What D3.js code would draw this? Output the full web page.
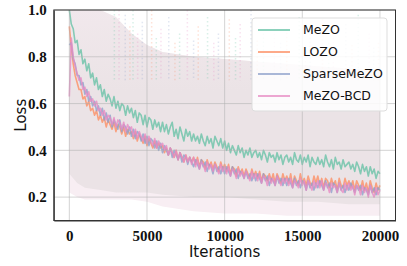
<!DOCTYPE html>
<html>
<head>
<meta charset="utf-8">
<script src="https://cdn.jsdelivr.net/npm/d3@7"></script>
<style>
  body { margin: 0; background: #fff; }
  .tick text { font-family: 'Liberation Serif', serif; font-weight: bold; font-size: 15px; fill: #111; }
  .label { font-family: 'DejaVu Sans', sans-serif; font-size: 15px; fill: #111; }
  .legend text { font-family: 'DejaVu Sans', sans-serif; font-size: 12.5px; fill: #111; }
</style>
</head>
<body>
<div id="chart"></div>
<script>
const seriesNames = ['MeZO', 'LOZO', 'SparseMeZO', 'MeZO-BCD'];
const colors = ['#66c2a5', '#fc8d62', '#8da0cb', '#e78ac3'];
const xTicks = [0, 5000, 10000, 15000, 20000];
const yTicks = [0.2, 0.4, 0.6, 0.8, 1.0];

// smoothed loss, one value every 125 iterations (16 per row = 2000 iterations)
const mezo = [
  1.00, 0.94, 0.92, 0.86, 0.87, 0.81, 0.83, 0.77, 0.79, 0.74, 0.77, 0.71, 0.73, 0.68, 0.71, 0.66,
  0.68, 0.63, 0.66, 0.61, 0.64, 0.62, 0.59, 0.63, 0.58, 0.61, 0.57, 0.60, 0.59, 0.55, 0.59, 0.56,
  0.58, 0.54, 0.57, 0.52, 0.56, 0.55, 0.51, 0.55, 0.50, 0.54, 0.53, 0.49, 0.53, 0.50, 0.52, 0.48,
  0.52, 0.48, 0.51, 0.47, 0.50, 0.52, 0.46, 0.49, 0.45, 0.50, 0.47, 0.44, 0.49, 0.46, 0.48, 0.44,
  0.47, 0.44, 0.46, 0.43, 0.47, 0.44, 0.42, 0.46, 0.43, 0.45, 0.41, 0.46, 0.44, 0.42, 0.45, 0.41,
  0.44, 0.40, 0.43, 0.39, 0.42, 0.40, 0.38, 0.42, 0.39, 0.41, 0.37, 0.40, 0.38, 0.41, 0.37, 0.39,
  0.40, 0.37, 0.39, 0.36, 0.40, 0.38, 0.35, 0.39, 0.37, 0.38, 0.35, 0.39, 0.36, 0.38, 0.34, 0.37,
  0.38, 0.35, 0.37, 0.34, 0.39, 0.36, 0.35, 0.38, 0.34, 0.37, 0.35, 0.38, 0.33, 0.37, 0.35, 0.34,
  0.37, 0.34, 0.36, 0.33, 0.38, 0.35, 0.33, 0.36, 0.32, 0.37, 0.34, 0.35, 0.32, 0.36, 0.33, 0.34,
  0.35, 0.32, 0.34, 0.31, 0.35, 0.33, 0.30, 0.34, 0.31, 0.33, 0.29, 0.33, 0.30, 0.32, 0.28, 0.31,
  0.30,
];
const lozo = [
  0.93, 0.84, 0.77, 0.72, 0.69, 0.66, 0.66, 0.62, 0.63, 0.59, 0.61, 0.57, 0.58, 0.55, 0.57, 0.53,
  0.55, 0.52, 0.54, 0.50, 0.53, 0.51, 0.49, 0.52, 0.48, 0.51, 0.50, 0.47, 0.50, 0.46, 0.49, 0.47,
  0.48, 0.45, 0.48, 0.44, 0.47, 0.45, 0.43, 0.46, 0.42, 0.45, 0.43, 0.41, 0.44, 0.41, 0.43, 0.41,
  0.42, 0.39, 0.41, 0.38, 0.41, 0.39, 0.37, 0.40, 0.36, 0.39, 0.37, 0.35, 0.38, 0.35, 0.37, 0.35,
  0.37, 0.34, 0.37, 0.33, 0.36, 0.35, 0.32, 0.36, 0.33, 0.35, 0.32, 0.35, 0.33, 0.31, 0.35, 0.32,
  0.34, 0.31, 0.34, 0.30, 0.33, 0.32, 0.29, 0.33, 0.30, 0.32, 0.29, 0.32, 0.30, 0.28, 0.32, 0.29,
  0.31, 0.28, 0.31, 0.27, 0.30, 0.29, 0.27, 0.30, 0.27, 0.30, 0.26, 0.30, 0.28, 0.26, 0.30, 0.27,
  0.29, 0.26, 0.30, 0.25, 0.29, 0.27, 0.25, 0.30, 0.26, 0.28, 0.25, 0.29, 0.26, 0.25, 0.29, 0.26,
  0.29, 0.25, 0.28, 0.24, 0.28, 0.27, 0.24, 0.28, 0.25, 0.27, 0.23, 0.28, 0.25, 0.24, 0.28, 0.25,
  0.27, 0.24, 0.27, 0.23, 0.27, 0.25, 0.23, 0.27, 0.23, 0.26, 0.22, 0.27, 0.24, 0.22, 0.26, 0.23,
  0.25,
];
const sparseMezo = [
  0.85, 0.86, 0.79, 0.77, 0.72, 0.72, 0.68, 0.69, 0.64, 0.66, 0.61, 0.63, 0.59, 0.61, 0.57, 0.59,
  0.55, 0.58, 0.53, 0.56, 0.52, 0.55, 0.50, 0.53, 0.51, 0.49, 0.53, 0.48, 0.51, 0.50, 0.47, 0.50,
  0.46, 0.49, 0.45, 0.48, 0.47, 0.44, 0.47, 0.43, 0.46, 0.42, 0.45, 0.44, 0.41, 0.44, 0.40, 0.43,
  0.39, 0.42, 0.40, 0.38, 0.41, 0.37, 0.40, 0.38, 0.36, 0.39, 0.35, 0.38, 0.37, 0.34, 0.37, 0.35,
  0.33, 0.36, 0.34, 0.32, 0.36, 0.33, 0.35, 0.31, 0.34, 0.33, 0.30, 0.34, 0.31, 0.33, 0.30, 0.33,
  0.30, 0.33, 0.31, 0.29, 0.33, 0.30, 0.32, 0.28, 0.31, 0.30, 0.28, 0.31, 0.28, 0.30, 0.27, 0.30,
  0.27, 0.30, 0.28, 0.26, 0.30, 0.27, 0.29, 0.25, 0.28, 0.27, 0.25, 0.29, 0.26, 0.28, 0.25, 0.28,
  0.25, 0.28, 0.26, 0.24, 0.28, 0.25, 0.27, 0.24, 0.27, 0.26, 0.23, 0.27, 0.24, 0.26, 0.23, 0.26,
  0.24, 0.27, 0.25, 0.23, 0.27, 0.24, 0.26, 0.22, 0.26, 0.25, 0.22, 0.26, 0.23, 0.25, 0.22, 0.25,
  0.23, 0.26, 0.24, 0.22, 0.25, 0.23, 0.25, 0.21, 0.24, 0.23, 0.21, 0.25, 0.22, 0.24, 0.21, 0.24,
  0.23,
];
const mezoBcd = [
  0.63, 0.88, 0.80, 0.76, 0.73, 0.70, 0.71, 0.66, 0.67, 0.63, 0.65, 0.61, 0.62, 0.59, 0.61, 0.57,
  0.58, 0.55, 0.57, 0.53, 0.55, 0.54, 0.51, 0.54, 0.50, 0.53, 0.52, 0.49, 0.52, 0.48, 0.51, 0.49,
  0.50, 0.46, 0.49, 0.45, 0.48, 0.46, 0.44, 0.47, 0.43, 0.46, 0.44, 0.42, 0.45, 0.41, 0.44, 0.42,
  0.43, 0.40, 0.42, 0.38, 0.41, 0.39, 0.37, 0.40, 0.36, 0.39, 0.37, 0.35, 0.38, 0.35, 0.37, 0.34,
  0.37, 0.33, 0.36, 0.32, 0.35, 0.34, 0.31, 0.35, 0.32, 0.34, 0.31, 0.34, 0.32, 0.30, 0.34, 0.31,
  0.33, 0.30, 0.33, 0.29, 0.32, 0.31, 0.28, 0.32, 0.29, 0.31, 0.28, 0.31, 0.29, 0.27, 0.31, 0.28,
  0.30, 0.27, 0.30, 0.26, 0.29, 0.28, 0.25, 0.29, 0.26, 0.28, 0.25, 0.29, 0.27, 0.25, 0.28, 0.26,
  0.28, 0.25, 0.28, 0.24, 0.27, 0.26, 0.24, 0.28, 0.25, 0.27, 0.23, 0.27, 0.25, 0.23, 0.27, 0.24,
  0.27, 0.24, 0.27, 0.23, 0.26, 0.25, 0.22, 0.26, 0.24, 0.25, 0.22, 0.26, 0.23, 0.22, 0.26, 0.23,
  0.26, 0.23, 0.25, 0.21, 0.25, 0.24, 0.21, 0.25, 0.22, 0.24, 0.20, 0.25, 0.22, 0.20, 0.24, 0.21,
  0.23,
];

// raw (unsmoothed) losses, drawn only as a faint envelope behind the curves
const rawIters = [0, 500, 1000, 2000, 3000, 4000, 5000, 6000, 8000, 10000, 12000, 14000, 16000, 18000, 20000];
const rawHigh = [1.0, 1.0, 1.0, 1.0, 0.97, 0.9, 0.85, 0.82, 0.8, 0.79, 0.78, 0.77, 0.76, 0.75, 0.74];
const rawLow = [0.3, 0.26, 0.24, 0.23, 0.22, 0.22, 0.22, 0.21, 0.2, 0.2, 0.19, 0.18, 0.18, 0.17, 0.17];
const rawMin = [0.22, 0.2, 0.19, 0.19, 0.19, 0.19, 0.18, 0.16, 0.14, 0.13, 0.13, 0.12, 0.12, 0.12, 0.12];
const spikeIters = [2900, 3200, 3600, 3900, 4100, 4400, 4700, 5300, 5600, 5900, 6400, 6800, 7100, 7600, 8000, 8300, 8900, 9300, 9600, 10300, 10700, 11000, 11700, 12100, 12500, 13200, 13600, 14000, 14800, 15200, 15500, 16300, 16700, 17000, 17800, 18200, 18600, 19300, 19600, 19900];
const spikeTops = [1.0, 1.0, 0.98, 0.93, 1.0, 0.9, 0.95, 1.0, 0.88, 0.92, 0.97, 0.86, 0.9, 1.0, 0.87, 0.93, 0.97, 0.86, 0.9, 0.96, 0.88, 0.94, 1.0, 0.87, 0.9, 0.95, 0.86, 0.92, 0.97, 0.85, 0.9, 0.96, 0.86, 0.88, 0.94, 0.85, 0.98, 0.9, 0.84, 0.86];

const allSeries = [mezo, lozo, sparseMezo, mezoBcd];
const step = 125;

const width = 407;
const height = 266;
const margin = { top: 10, right: 11.5, bottom: 45.5, left: 53.8 };
const innerW = width - margin.left - margin.right;
const innerH = height - margin.top - margin.bottom;

const x = d3.scaleLinear().domain([-1000, 21000]).range([0, innerW]);
const y = d3.scaleLinear().domain([0.1, 1.0]).range([innerH, 0]);

const svg = d3
  .select('#chart')
  .append('svg')
  .attr('width', width)
  .attr('height', height)
  .append('g')
  .attr('transform', `translate(${margin.left},${margin.top})`);

svg.append('clipPath').attr('id', 'clip')
  .append('rect').attr('width', innerW).attr('height', innerH);

// soft top edge for the raw envelope
const grad = svg.append('linearGradient').attr('id', 'fade')
  .attr('gradientUnits', 'userSpaceOnUse')
  .attr('x1', 0).attr('x2', 0).attr('y1', y(1.0)).attr('y2', y(0.65));
grad.append('stop').attr('offset', 0).attr('stop-color', '#ebe3e6').attr('stop-opacity', 0.55);
grad.append('stop').attr('offset', 1).attr('stop-color', '#ebe3e6').attr('stop-opacity', 1);

const plot = svg.append('g').attr('clip-path', 'url(#clip)');

const band = (lo, hi) => d3.area()
  .x((d, i) => x(rawIters[i]))
  .y0((d, i) => y(lo[i]))
  .y1((d, i) => y(hi[i]));

plot.append('path').attr('fill', '#f8eef3').attr('d', band(rawMin, rawHigh)(rawIters));
plot.append('path').attr('fill', 'url(#fade)').attr('d', band(rawLow, rawHigh)(rawIters));

plot.selectAll('.spike')
  .data(spikeIters)
  .join('line')
  .attr('class', 'spike')
  .attr('x1', d => x(d))
  .attr('x2', d => x(d))
  .attr('y1', (d, i) => y(spikeTops[i]))
  .attr('y2', y(0.7))
  .attr('stroke', (d, i) => colors[(i * 3) % 4])
  .attr('stroke-opacity', 0.25)
  .attr('stroke-width', 1.5)
  .attr('stroke-dasharray', '1.5,2.5');

// grid
svg.append('g')
  .selectAll('line')
  .data(yTicks)
  .join('line')
  .attr('x1', 0).attr('x2', innerW)
  .attr('y1', d => y(d)).attr('y2', d => y(d))
  .attr('stroke', '#b0b0b0').attr('stroke-opacity', 0.55);
svg.append('g')
  .selectAll('line')
  .data(xTicks)
  .join('line')
  .attr('y1', 0).attr('y2', innerH)
  .attr('x1', d => x(d)).attr('x2', d => x(d))
  .attr('stroke', '#b0b0b0').attr('stroke-opacity', 0.55);

// smoothed loss curves
const line = d3.line()
  .x((d, i) => x(i * step))
  .y(d => y(d));

plot.selectAll('.curve')
  .data(allSeries)
  .join('path')
  .attr('class', 'curve')
  .attr('fill', 'none')
  .attr('stroke', (d, i) => colors[i])
  .attr('stroke-opacity', 0.78)
  .attr('stroke-width', 1.6)
  .attr('stroke-linejoin', 'round')
  .attr('d', line);

// axes
svg.append('g')
  .attr('transform', `translate(0,${innerH})`)
  .call(d3.axisBottom(x).tickValues(xTicks).tickSize(0).tickPadding(10).tickFormat(d3.format('d')))
  .call(g => g.select('.domain').attr('stroke', '#333'));

svg.append('g')
  .call(d3.axisLeft(y).tickValues(yTicks).tickSize(0).tickPadding(7).tickFormat(d3.format('.1f')))
  .call(g => g.select('.domain').attr('stroke', '#333'));

svg.append('rect')
  .attr('width', innerW).attr('height', innerH)
  .attr('fill', 'none').attr('stroke', '#333').attr('stroke-width', 1);

svg.append('text')
  .attr('class', 'label')
  .attr('x', innerW / 2)
  .attr('y', innerH + 36.5)
  .attr('text-anchor', 'middle')
  .text('Iterations');

svg.append('text')
  .attr('class', 'label')
  .attr('transform', `translate(${-28},${innerH / 2}) rotate(-90)`)
  .attr('text-anchor', 'middle')
  .text('Loss');

// legend
const legend = svg.append('g').attr('class', 'legend')
  .attr('transform', `translate(${252 - margin.left},${18 - margin.top})`);

legend.append('rect')
  .attr('width', 135).attr('height', 93).attr('rx', 3)
  .attr('fill', '#fff').attr('fill-opacity', 0.85)
  .attr('stroke', '#ddd');

const item = legend.selectAll('.item')
  .data(seriesNames)
  .join('g')
  .attr('class', 'item')
  .attr('transform', (d, i) => `translate(0,${12 + i * 22})`);

item.append('line')
  .attr('x1', 6).attr('x2', 38)
  .attr('stroke', (d, i) => colors[i])
  .attr('stroke-opacity', 0.75)
  .attr('stroke-width', 2);

item.append('text')
  .attr('x', 51)
  .attr('dy', '0.35em')
  .text(d => d);
</script>
</body>
</html>
